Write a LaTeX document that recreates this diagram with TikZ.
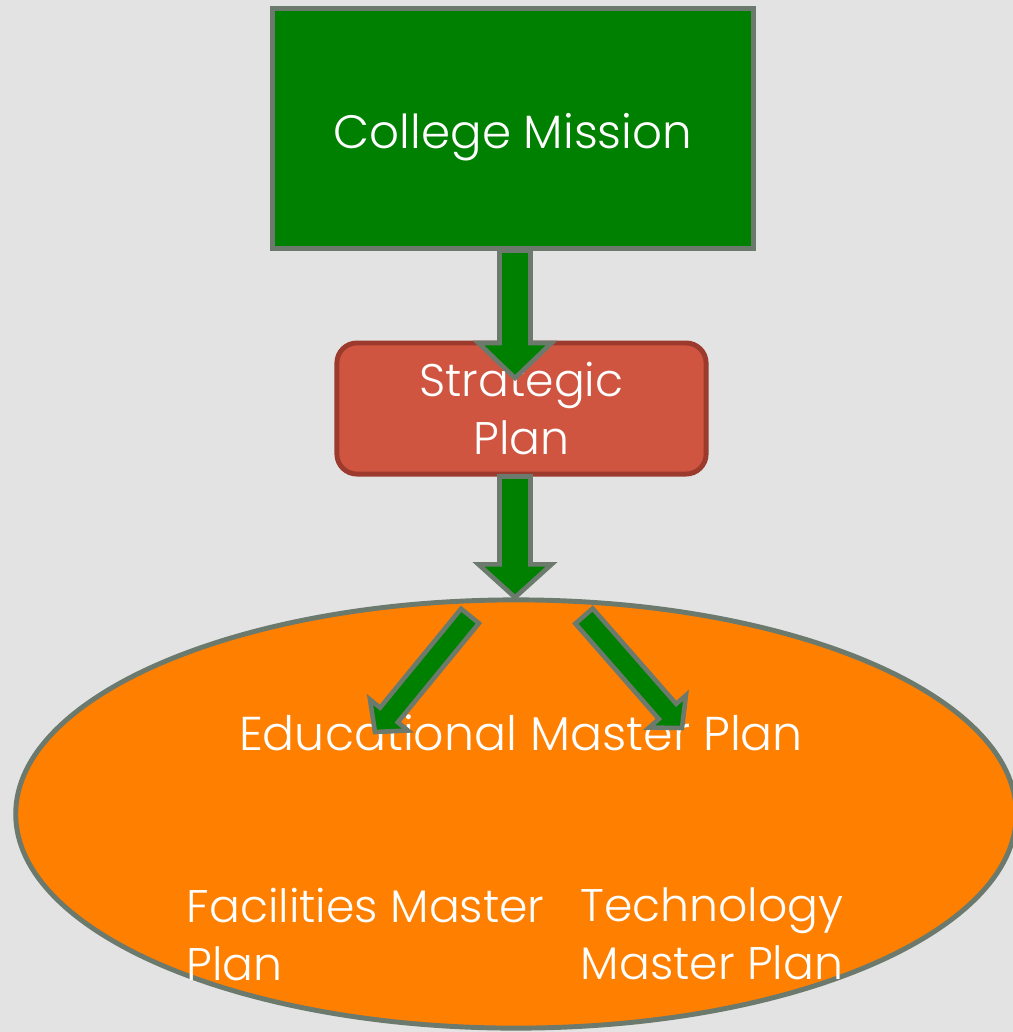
\documentclass[tikz,border=0pt]{standalone}
\usepackage{fontspec}
\setmainfont{Poppins}[UprightFont=* Light]
\usetikzlibrary{calc,shapes.geometric}
\definecolor{bgGray}{HTML}{E3E3E3}
\definecolor{edgeGray}{HTML}{6C7A6E}
\definecolor{planGreen}{HTML}{008000}
\definecolor{planRed}{HTML}{CF5541}
\definecolor{planRedEdge}{HTML}{9C3B2D}
\definecolor{planOrange}{HTML}{FF8000}
\tikzset{
    box/.style={draw=edgeGray, line width=1.4pt, fill=planGreen, text=white},
    redbox/.style={draw=planRedEdge, line width=1.4pt, fill=planRed, text=white, rounded corners=0.2cm},
    blob/.style={ellipse, draw=edgeGray, line width=1.4pt, fill=planOrange},
    plantext/.style={text=white, font=\fontsize{13}{16.5}\selectfont, inner sep=0pt},
    arrowbody/.style={draw=edgeGray, line width=1.3pt, fill=planGreen, line join=miter}
}
% tail, tip, shaft half width, head half width, head length
\newcommand{\blockarrow}[5]{%
    \coordinate (ab) at ($(#2)!#5!(#1)$);
    \draw[arrowbody] ($(#1)!#3!90:(#2)$) -- ($(ab)!#3!90:(#2)$) -- ($(ab)!#4!90:(#2)$)
        -- (#2) -- ($(ab)!#4!-90:(#2)$) -- ($(ab)!#3!-90:(#2)$) -- ($(#1)!#3!-90:(#2)$) -- cycle;
}
\begin{document}
\begin{tikzpicture}[x=0.01cm, y=-0.01cm]
    \useasboundingbox (0,0) rectangle (1013,1032);
    \fill[bgGray] (0,0) rectangle (1013,1032);
    %% Plans
    \node[blob, minimum width=10cm, minimum height=4.28cm] (plans) at (516,814) {};
    \node[plantext, anchor=base, font=\fontsize{13.5}{16.5}\selectfont] (emp) at (521,750) {Educational Master Plan};
    \node[plantext, anchor=north west, align=left] (fmp) at (186,887) {Facilities Master\\Plan};
    \node[plantext, anchor=north, align=center] (tmp) at (712,887) {Technology\\Master Plan};
    %% Mission and strategy
    \node[box, minimum width=4.8cm, minimum height=2.39cm] (mission) at (513,128.5) {};
    \node[plantext, anchor=base, font=\fontsize{13.3}{17}\selectfont] (missiontext) at (513,148) {College Mission};
    \node[redbox, minimum width=3.69cm, minimum height=1.31cm, align=center, font=\fontsize{13}{16.5}\selectfont] (strategic) at (521.5,408.5) {Strategic\\Plan};
    %% Arrows
    \coordinate (tip1) at (515,378);
    \blockarrow{mission.south -| tip1}{tip1}{0.155cm}{0.365cm}{0.35cm}
    \blockarrow{strategic.south -| tip1}{plans.north -| tip1}{0.155cm}{0.365cm}{0.33cm}
    \coordinate (tail3) at (470,616);
    \coordinate (tip3) at (375,732);
    \coordinate (tail4) at (584,616);
    \coordinate (tip4) at (682,728);
    \blockarrow{tail3}{tip3}{0.115cm}{0.245cm}{0.22cm}
    \blockarrow{tail4}{tip4}{0.115cm}{0.245cm}{0.22cm}
\end{tikzpicture}
\end{document}
